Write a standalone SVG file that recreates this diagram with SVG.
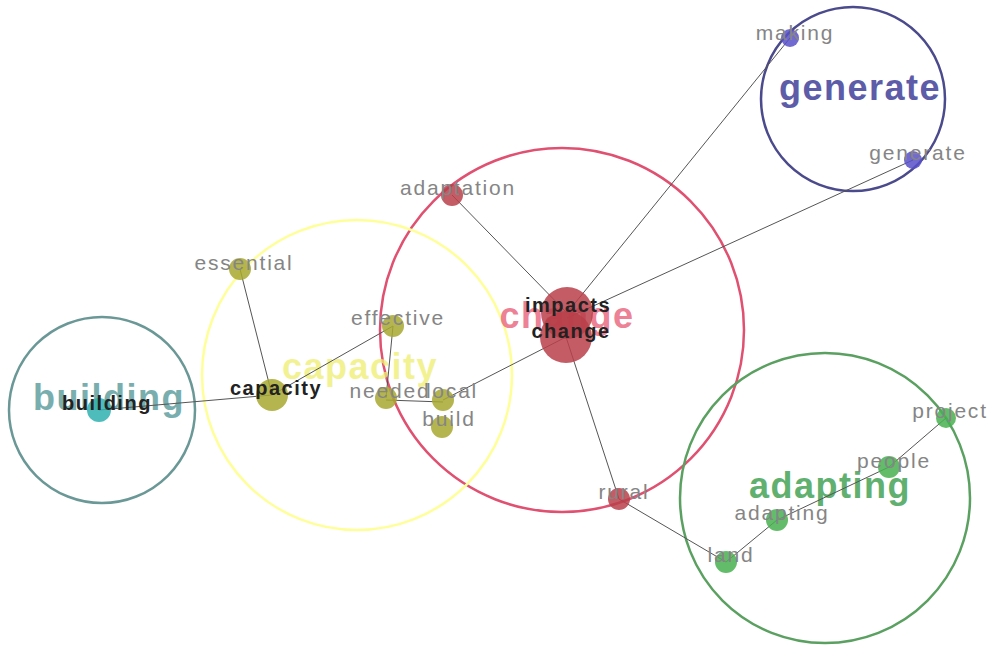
<svg xmlns="http://www.w3.org/2000/svg" width="990" height="646" viewBox="0 0 990 646">
<style>
.ring{fill:none;stroke-width:2.5}
.big{font-family:"Liberation Sans",Arial,sans-serif;font-size:36px;font-weight:bold;letter-spacing:1.5px;text-anchor:middle}
.edge{stroke:#555;stroke-width:1;fill:none}
.lbl{font-family:"Liberation Sans",Arial,sans-serif;font-size:21px;letter-spacing:1.8px;fill:#858585;text-anchor:middle}
.blk{font-family:"Liberation Sans",Arial,sans-serif;font-size:20px;font-weight:bold;letter-spacing:1.5px;fill:#222;text-anchor:middle}
.red{fill:#b8404a;fill-opacity:0.85}
.olv{fill:#a8a830;fill-opacity:0.85}
.grn{fill:#48b050;fill-opacity:0.85}
.pur{fill:#5850c8;fill-opacity:0.85}
.teal{fill:#30b0b0;fill-opacity:0.85}
</style>
<rect width="990" height="646" fill="#ffffff"/>
<g id="clusters">
<circle class="ring" cx="853" cy="99" r="92" stroke="#4a4a8c"/>
<circle class="ring" cx="562" cy="330" r="182" stroke="#e05070"/>
<circle class="ring" cx="357" cy="375" r="155" stroke="#ffff99" stroke-width="4.5"/>
<circle class="ring" cx="102" cy="410" r="93" stroke="#6a9896"/>
<circle class="ring" cx="825" cy="498" r="145" stroke="#5aa060"/>
<text class="big" x="860" y="100" fill="#5c5ca8">generate</text>
<text class="big" x="567" y="328" fill="#e8607a" fill-opacity="0.8">change</text>
<text class="big" x="360" y="379" fill="#eeee70" fill-opacity="0.75">capacity</text>
<text class="big" x="109" y="410" fill="#78aeae" font-weight="normal">building</text>
<text class="big" x="830" y="498" fill="#60b070">adapting</text>
</g>
<g id="connectors">
<line class="edge" x1="790" y1="38" x2="567" y2="313"/>
<line class="edge" x1="913" y1="160" x2="567" y2="318"/>
<line class="edge" x1="452" y1="195" x2="567" y2="313"/>
<line class="edge" x1="566" y1="337" x2="443" y2="400"/>
<line class="edge" x1="566" y1="337" x2="619" y2="499"/>
<line class="edge" x1="619" y1="499" x2="726" y2="562"/>
<line class="edge" x1="726" y1="562" x2="777" y2="520"/>
<line class="edge" x1="777" y1="520" x2="889" y2="467"/>
<line class="edge" x1="889" y1="467" x2="946" y2="418"/>
<line class="edge" x1="99" y1="410" x2="272" y2="395"/>
<line class="edge" x1="240" y1="269" x2="272" y2="395"/>
<line class="edge" x1="272" y1="395" x2="393" y2="326"/>
<line class="edge" x1="393" y1="326" x2="386" y2="398"/>
<line class="edge" x1="386" y1="400" x2="443" y2="402"/>
</g>
<g id="node-making"><circle class="pur" cx="790" cy="38" r="9"/><text class="lbl" x="795" y="40">making</text></g>
<g id="node-generate"><circle class="pur" cx="913" cy="160" r="9"/><text class="lbl" x="918" y="160">generate</text></g>
<g id="node-adaptation"><circle class="red" cx="452" cy="195" r="11"/><text class="lbl" x="458" y="195">adaptation</text></g>
<g id="node-impacts"><circle class="red" cx="567" cy="313" r="26"/></g>
<g id="node-change"><circle class="red" cx="566" cy="337" r="26"/><text class="blk" x="568" y="312">impacts</text><text class="blk" x="571" y="338">change</text></g>
<g id="node-essential"><circle class="olv" cx="240" cy="269" r="11"/><text class="lbl" x="244" y="270">essential</text></g>
<g id="node-effective"><circle class="olv" cx="393" cy="326" r="11"/><text class="lbl" x="398" y="325">effective</text></g>
<g id="node-capacity"><circle class="olv" cx="272" cy="395" r="16"/><text class="blk" x="276" y="395">capacity</text></g>
<g id="node-needed"><circle class="olv" cx="386" cy="398" r="11"/><text class="lbl" x="390" y="398">needed</text></g>
<g id="node-local"><circle class="olv" cx="443" cy="400" r="11"/><text class="lbl" x="452" y="398">local</text></g>
<g id="node-build"><circle class="olv" cx="442" cy="427" r="11"/><text class="lbl" x="449" y="426">build</text></g>
<g id="node-building"><circle class="teal" cx="99" cy="410" r="12"/><text class="blk" x="107" y="410">building</text></g>
<g id="node-rural"><circle class="red" cx="619" cy="499" r="11"/><text class="lbl" x="624" y="499">rural</text></g>
<g id="node-land"><circle class="grn" cx="726" cy="562" r="11"/><text class="lbl" x="731" y="562">land</text></g>
<g id="node-adapting"><circle class="grn" cx="777" cy="520" r="11"/><text class="lbl" x="782" y="520">adapting</text></g>
<g id="node-people"><circle class="grn" cx="889" cy="467" r="11"/><text class="lbl" x="894" y="468">people</text></g>
<g id="node-project"><circle class="grn" cx="946" cy="418" r="10"/><text class="lbl" x="950" y="418">project</text></g>
</svg>
